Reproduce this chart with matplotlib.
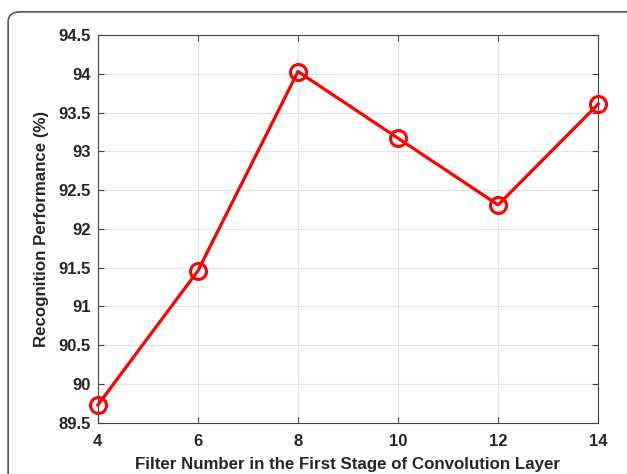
import matplotlib
matplotlib.use("Agg")
import matplotlib.pyplot as plt
from matplotlib.patches import FancyBboxPatch

# data
filters = [4, 6, 8, 10, 12, 14]
performance = [89.73, 91.46, 94.03, 93.17, 92.31, 93.61]
yticks = [89.5, 90, 90.5, 91, 91.5, 92, 92.5, 93, 93.5, 94, 94.5]
ytick_labels = ["89.5", "90", "90.5", "91", "91.5", "92", "92.5", "93", "93.5", "94", "94.5"]

plt.rcParams['font.family'] = ['Liberation Sans', 'DejaVu Sans']
plt.rcParams['font.weight'] = 'bold'

fig = plt.figure(figsize=(6.27, 4.74), dpi=100)

# outer rounded frame, behind the axes
frame = FancyBboxPatch((0.013, -0.05), 1.1, 1.025, transform=fig.transFigure,
                       boxstyle="round,pad=0,rounding_size=0.02",
                       facecolor='white', edgecolor='#555555', linewidth=1.2,
                       zorder=-5)
fig.patches.append(frame)

ax = fig.add_axes([0.156, 0.108, 0.798, 0.818])
ax.plot(filters, performance, color='red', linewidth=2.3, marker='o',
        markersize=11.5, markerfacecolor='none', markeredgewidth=2.2,
        clip_on=False, zorder=3)

ax.set_xlim(4, 14)
ax.set_ylim(89.5, 94.5)
ax.set_xticks(filters)
ax.set_yticks(yticks)
ax.set_yticklabels(ytick_labels)
ax.grid(True, color='#e3e3e3', linewidth=0.8)
ax.set_axisbelow(True)
ax.tick_params(direction='in', top=True, right=True, length=4, labelsize=12,
               color='#444444', labelcolor='#262626')
ax.tick_params(axis='x', pad=8)
ax.tick_params(axis='y', pad=5)
for sp in ax.spines.values():
    sp.set_color('#444444')
    sp.set_linewidth(0.8)

ax.set_xlabel("Filter Number in the First Stage of Convolution Layer",
              fontsize=12.2, fontweight='bold', color='#262626', labelpad=6)
ax.set_ylabel("Recognition Performance (%)", fontsize=12.2, fontweight='bold',
              color='#262626', labelpad=7)

fig.savefig("out.png", dpi=100)
